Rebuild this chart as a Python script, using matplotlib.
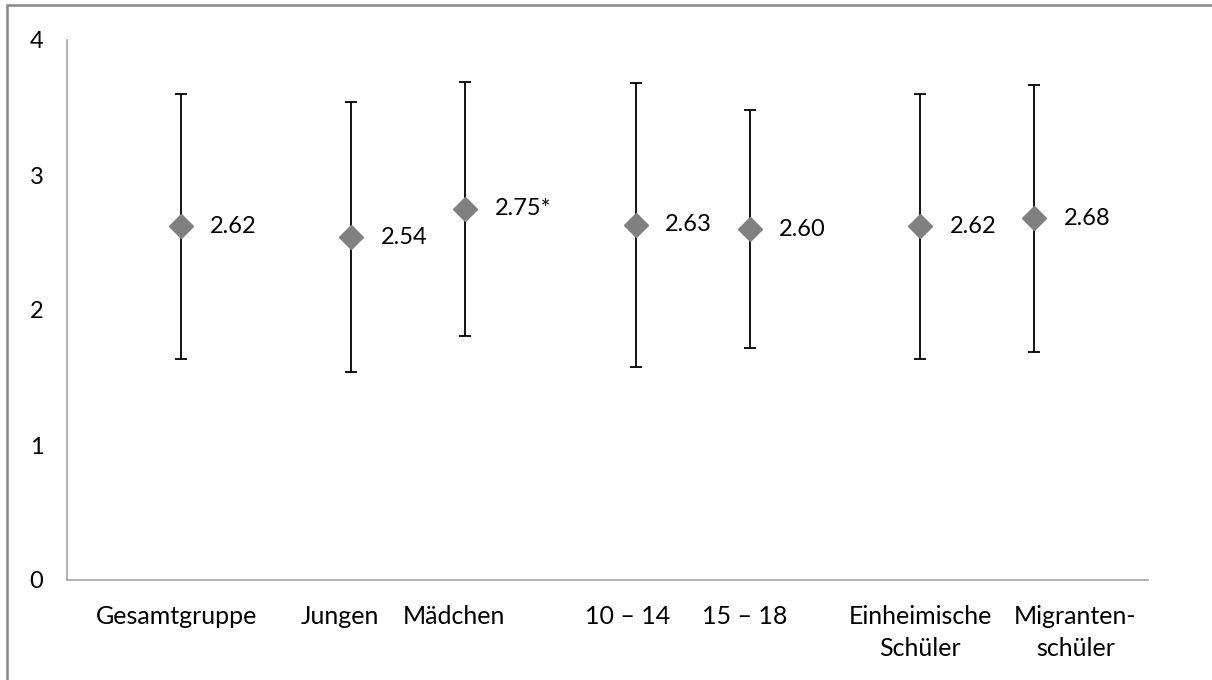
import matplotlib.pyplot as plt
from matplotlib.patches import Rectangle
from matplotlib.transforms import ScaledTranslation

# Gruppen (Mittelwert und Standardabweichung)
gruppen = [
    ['Gesamtgruppe'],
    ['Jungen', 'Mädchen'],
    ['10 – 14', '15 – 18'],
    ['Einheimische\nSchüler', 'Migranten-\nschüler'],
]
mittelwerte = [2.62, 2.54, 2.75, 2.63, 2.60, 2.62, 2.68]
sd = [0.98, 1.00, 0.94, 1.05, 0.88, 0.98, 0.99]
beschriftung = ['2.62', '2.54', '2.75*', '2.63', '2.60', '2.62', '2.68']
y_ticks = [0, 1, 2, 3, 4]

plt.rcParams['font.family'] = ['Lato', 'DejaVu Sans']

# x-Positionen: Abstand innerhalb einer Gruppe 1, zwischen Gruppen 1.5
kategorien = []
positionen = []
x = 1.0
for g in gruppen:
    for name in g:
        kategorien.append(name)
        positionen.append(x)
        x += 1
    x += 0.5

# Verschiebung der Achsenbeschriftungen (Pixel), wie im Original
label_versatz = [-4, -12, -11, -8, -5, 0, 41]

fig = plt.figure(figsize=(12.12, 6.8), dpi=100)
ax = fig.add_axes([67/1212, 1 - 580/680, (1148-67)/1212, (580-40)/680])

ax.errorbar(positionen, mittelwerte, yerr=sd, fmt='none', ecolor='black',
            elinewidth=1.3, capsize=4.3, capthick=1.3, zorder=2)
ax.plot(positionen, mittelwerte, linestyle='none', marker='D', markersize=12.5,
        color='#808080', zorder=3)

for px, m, t in zip(positionen, mittelwerte, beschriftung):
    ax.annotate(t, (px, m), xytext=(21, 0), textcoords='offset points',
                va='center', ha='left', fontsize=17)

ax.set_xlim(0, positionen[-1] + 1)
ax.set_ylim(0, 4)
ax.set_xticks(positionen)
ax.set_xticklabels(kategorien, fontsize=18, linespacing=1.45)
ax.set_yticks(y_ticks)
ax.set_yticklabels([str(v) for v in y_ticks], fontsize=17)
ax.tick_params(axis='both', length=0)
ax.tick_params(axis='x', pad=18)
ax.tick_params(axis='y', pad=17)

for lab, dx in zip(ax.get_xticklabels(), label_versatz):
    lab.set_transform(lab.get_transform() + ScaledTranslation(dx / 100, 0, fig.dpi_scale_trans))

for s in ['top', 'right']:
    ax.spines[s].set_visible(False)
for s in ['left', 'bottom']:
    ax.spines[s].set_color('#a6a6a6')
    ax.spines[s].set_linewidth(1.2)

# Rahmen um das Diagramm
fig.patches.append(Rectangle((7/1212, -0.1), 1.2, 1 - 5/680 + 0.1,
                             transform=fig.transFigure, fill=False,
                             edgecolor='#878787', linewidth=1.8))

fig.savefig('out.png', dpi=100)
